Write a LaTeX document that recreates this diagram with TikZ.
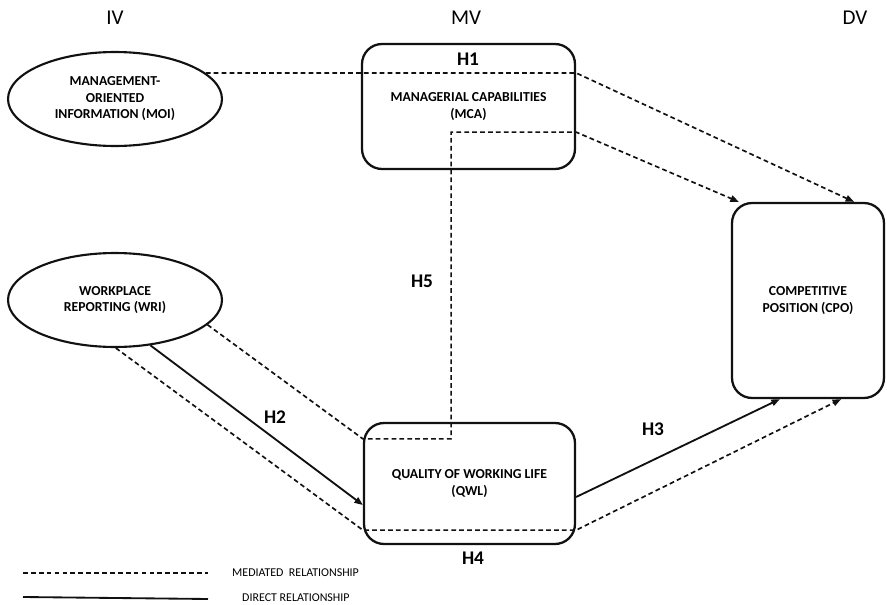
\documentclass[tikz,border=0pt]{standalone}
\usepackage{fontspec}
\setmainfont{Carlito}
\usetikzlibrary{arrows.meta, positioning, shapes.geometric, calc}
\definecolor{lineDark}{HTML}{111111}

\begin{document}
\begin{tikzpicture}[x=0.02cm, y=-0.02cm,
    elip/.style={draw=lineDark, ellipse, line width=1.2pt, align=center,
                 minimum width=4.28cm, minimum height=1.88cm, inner sep=0pt,
                 font=\fontsize{7.8}{9.4}\selectfont\bfseries},
    caja/.style={draw=lineDark, rounded corners=0.4cm, line width=1.3pt, align=center,
                 font=\fontsize{7.8}{9.4}\selectfont\bfseries},
    hip/.style={font=\fontsize{11}{13}\selectfont\bfseries},
    col/.style={font=\fontsize{12}{14}\selectfont},
    ley/.style={font=\fontsize{6.8}{8}\selectfont, anchor=west},
    med/.style={dash pattern=on 2.7pt off 1.8pt, line width=0.95pt, color=lineDark},
    dir/.style={line width=1.05pt, color=lineDark},
    tip/.style={-{Triangle[length=1.7mm, width=1.3mm]}}]
    \useasboundingbox (0,0) rectangle (887,605);
    % columnas
    \node[col] (iv) at (115,18) {IV};
    \node[col] (mv) at (466,18) {MV};
    \node[col] (dv) at (855,18) {DV};
    % constructos
    \node[elip] (moi) at (115,99)  {MANAGEMENT-\\ORIENTED\\INFORMATION (MOI)};
    \node[elip] (wri) at (115,300) {WORKPLACE\\REPORTING (WRI)};
    \node[caja, minimum width=4.26cm, minimum height=2.5cm]  (mca) at (468.5,106.5)
        {MANAGERIAL CAPABILITIES\\(MCA)};
    \node[caja, minimum width=4.22cm, minimum height=2.42cm] (qwl) at (469.5,483.5)
        {QUALITY OF WORKING LIFE\\(QWL)};
    \node[caja, minimum width=3.04cm, minimum height=3.9cm]  (cpo) at (808,300.5)
        {COMPETITIVE\\POSITION (CPO)};
    % relaciones mediadas
    \draw[med, tip] (moi.16) -- (moi.16 -| mca.east) -- ([xshift=-0.62cm]cpo.north east);
    \draw[med, tip] (wri.-15) -- ([yshift=-0.34cm]qwl.north west)
        -| ([xshift=-2.5cm, yshift=0.76cm]mca.south east)
        -- ([yshift=0.76cm]mca.south east) -- ([xshift=0.16cm]cpo.north west);
    \draw[med, tip] (wri.-89) -- ([yshift=0.3cm]qwl.south west)
        -- ([yshift=0.3cm]qwl.south east) -- ([xshift=-0.88cm]cpo.south east);
    % relaciones directas
    \draw[dir, tip] (wri.-52) -- ([yshift=-0.43cm]qwl.west);
    \draw[dir, tip] ([yshift=-0.27cm]qwl.east) -- ([xshift=0.98cm]cpo.south west);
    % hipotesis
    \node[hip] (h1) at (468,59)  {H1};
    \node[hip] (h2) at (275,417) {H2};
    \node[hip] (h3) at (653,429) {H3};
    \node[hip] (h4) at (473,558) {H4};
    \node[hip] (h5) at (422,281) {H5};
    % leyenda
    \coordinate (lm1) at (23,573);  \coordinate (lm2) at (208,573);
    \coordinate (ld1) at (23,597);  \coordinate (ld2) at (208,599);
    \draw[med] (lm1) -- (lm2);
    \draw[dir] (ld1) -- (ld2);
    \node[ley] (lmt) at (226,573) {MEDIATED\ \ RELATIONSHIP};
    \node[ley] (ldt) at (236,598) {DIRECT RELATIONSHIP};
\end{tikzpicture}
\end{document}
